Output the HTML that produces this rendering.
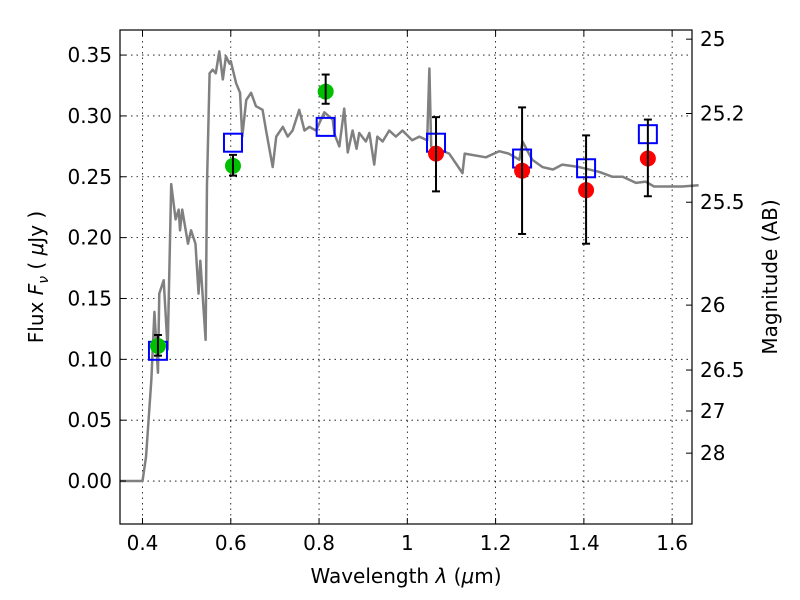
<!DOCTYPE html>
<html><head><meta charset="utf-8"><style>
body{margin:0;background:#fff}
svg{display:block;font-family:"DejaVu Sans","Liberation Sans",sans-serif}
</style></head><body>
<svg id="chart" width="800" height="600" viewBox="0 0 800 600" xmlns="http://www.w3.org/2000/svg">
<rect width="800" height="600" fill="#fff"/>
<g id="grid"></g>
<g id="spec"></g>
<g id="marks"></g>
<g id="axes"></g>
<text x="406" y="583" text-anchor="middle" font-size="20">Wavelength  <tspan font-style="italic">λ</tspan> (<tspan font-style="italic">μ</tspan>m)</text>
<text transform="translate(43,277) rotate(-90)" text-anchor="middle" font-size="20">Flux  <tspan font-style="italic">F</tspan><tspan font-style="italic" font-size="14" dy="5">ν</tspan><tspan dy="-5">  ( </tspan><tspan font-style="italic">μ</tspan>Jy )</text>
<text transform="translate(777,277) rotate(-90)" text-anchor="middle" font-size="20">Magnitude (AB)</text>
</svg>
<script>
const specLam=[0.348,0.40,0.408,0.42,0.427,0.435,0.438,0.448,0.457,0.465,0.475,0.482,0.485,0.49,0.503,0.51,0.52,0.527,0.531,0.543,0.546,0.552,0.559,0.566,0.574,0.582,0.589,0.597,0.60,0.612,0.621,0.626,0.635,0.646,0.657,0.672,0.68,0.695,0.703,0.718,0.729,0.74,0.755,0.767,0.778,0.793,0.812,0.831,0.835,0.846,0.857,0.865,0.876,0.885,0.891,0.906,0.914,0.925,0.932,0.944,0.959,0.974,0.989,1.011,1.027,1.045,1.05,1.054,1.095,1.125,1.13,1.178,1.208,1.23,1.254,1.261,1.283,1.306,1.33,1.351,1.389,1.435,1.465,1.488,1.518,1.54,1.559,1.623,1.66];
const specFlux=[0,0,0.02,0.083,0.139,0.089,0.154,0.165,0.108,0.244,0.215,0.223,0.206,0.223,0.195,0.206,0.195,0.154,0.181,0.116,0.242,0.335,0.338,0.335,0.353,0.33,0.349,0.343,0.345,0.327,0.319,0.283,0.313,0.319,0.308,0.305,0.288,0.258,0.283,0.291,0.283,0.288,0.305,0.288,0.291,0.288,0.303,0.297,0.285,0.275,0.306,0.27,0.288,0.273,0.286,0.279,0.286,0.26,0.283,0.279,0.288,0.283,0.288,0.28,0.283,0.28,0.339,0.275,0.269,0.253,0.269,0.266,0.271,0.269,0.264,0.279,0.264,0.258,0.256,0.26,0.258,0.254,0.25,0.25,0.245,0.246,0.242,0.242,0.243];
const greenLam=[0.435,0.605,0.815];
const greenFlux=[0.111,0.259,0.320];
const greenHi=[0.120,0.268,0.334];
const greenLo=[0.103,0.251,0.310];
const redLam=[1.065,1.26,1.405,1.545];
const redFlux=[0.269,0.255,0.239,0.265];
const redHi=[0.299,0.307,0.284,0.297];
const redLo=[0.238,0.203,0.195,0.234];
const modelLam=[0.435,0.605,0.815,1.065,1.26,1.405,1.545];
const modelFlux=[0.107,0.278,0.291,0.278,0.265,0.257,0.285];
const xTicks=[0.4,0.6,0.8,1.0,1.2,1.4,1.6];
const xTickLabels=["0.4","0.6","0.8","1","1.2","1.4","1.6"];
const yTicks=[0,0.05,0.10,0.15,0.20,0.25,0.30,0.35];
const yTickLabels=["0.00","0.05","0.10","0.15","0.20","0.25","0.30","0.35"];
const magTicks=[25,25.2,25.5,26,26.5,27,28];
const magTickLabels=["25","25.2","25.5","26","26.5","27","28"];

const L=120,R=692,T=30,B=524;
const x0=0.349,x1=1.645,y0=-0.0353,y1=0.3706;
const X=v=>L+(v-x0)/(x1-x0)*(R-L);
const Y=v=>B-(v-y0)/(y1-y0)*(B-T);
const NS="http://www.w3.org/2000/svg";
function mk(tag,attrs,parent){const e=document.createElementNS(NS,tag);for(const k in attrs)e.setAttribute(k,attrs[k]);parent.appendChild(e);return e;}
const grid=document.getElementById('grid'),spec=document.getElementById('spec'),marks=document.getElementById('marks'),axes=document.getElementById('axes');

xTicks.forEach((t,i)=>{
  const g=mk('line',{x1:X(t),x2:X(t),y1:T,y2:B,stroke:'#000','stroke-width':0.8,'stroke-dasharray':'1.5,4'},grid);
  
  
  mk('line',{x1:X(t),x2:X(t),y1:B,y2:B-6,stroke:'#000'},axes);
  mk('line',{x1:X(t),x2:X(t),y1:T,y2:T+6,stroke:'#000'},axes);
  const tx=mk('text',{x:X(t),y:B+26,'text-anchor':'middle','font-size':20},axes);
  tx.textContent=xTickLabels[i];
  
  
});
yTicks.forEach((t,i)=>{
  const g=mk('line',{x1:L,x2:R,y1:Y(t),y2:Y(t),stroke:'#000','stroke-width':0.8,'stroke-dasharray':'1.5,4'},grid);
  
  
  mk('line',{x1:L,x2:L+6,y1:Y(t),y2:Y(t),stroke:'#000'},axes);
  const tx=mk('text',{x:L-8,y:Y(t)+7,'text-anchor':'end','font-size':20},axes);
  tx.textContent=yTickLabels[i];
  
  
});
magTicks.forEach((m,i)=>{
  const f=Math.pow(10,(23.9-m)/2.5);
  const y=Y(f);
  mk('line',{x1:R,x2:R-6,y1:y,y2:y,stroke:'#000'},axes);
  const tx=mk('text',{x:R+8,y:y+7,'font-size':20},axes);
  tx.textContent=magTickLabels[i];
  
  
});
const fr=mk('rect',{x:L,y:T,width:R-L,height:B-T,fill:'none',stroke:'#000','stroke-width':1.2},axes);



const sp=mk('polyline',{points:specLam.map((l,i)=>X(l)+','+Y(specFlux[i])).join(' '),fill:'none',stroke:'#808080','stroke-width':2.5,'stroke-linejoin':'round'},spec);



function errbar(l,lo,hi){
  const xx=X(l);
  const e=mk('g',{stroke:'#000','stroke-width':2},marks);
  
  
  mk('line',{x1:xx,x2:xx,y1:Y(lo),y2:Y(hi)},e);
  mk('line',{x1:xx-4,x2:xx+4,y1:Y(lo),y2:Y(lo)},e);
  mk('line',{x1:xx-4,x2:xx+4,y1:Y(hi),y2:Y(hi)},e);
}
modelLam.forEach((l,i)=>{
  const s=mk('rect',{x:X(l)-9,y:Y(modelFlux[i])-9,width:18,height:18,fill:'none',stroke:'#0000ff','stroke-width':2},marks);
  
  
});
greenLam.forEach((l,i)=>{
  const c=mk('circle',{cx:X(l),cy:Y(greenFlux[i]),r:8,fill:'#00bf00'},marks);
  
  
  errbar(l,greenLo[i],greenHi[i]);
});
redLam.forEach((l,i)=>{
  const c=mk('circle',{cx:X(l),cy:Y(redFlux[i]),r:8,fill:'#ff0000'},marks);
  
  
  errbar(l,redLo[i],redHi[i]);
});
</script>
</body></html>
